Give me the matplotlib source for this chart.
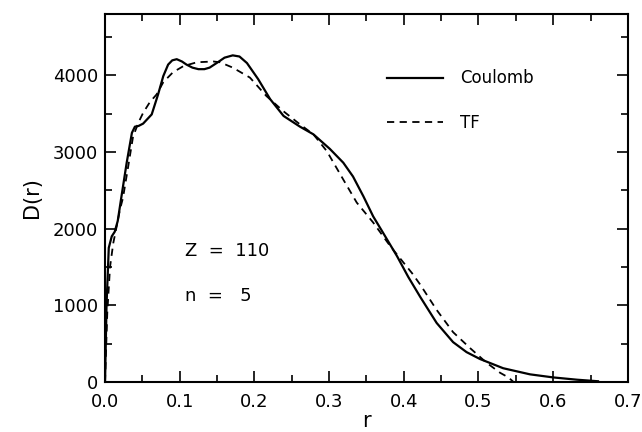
import matplotlib
matplotlib.use("Agg")
import matplotlib.pyplot as plt
from matplotlib.ticker import MultipleLocator, FormatStrFormatter

# Coulomb curve
r_coul = [0, 0.002, 0.005, 0.009, 0.013, 0.017, 0.022, 0.029, 0.036, 0.040,
          0.045, 0.051, 0.0625, 0.071, 0.078, 0.0845, 0.09, 0.096, 0.103, 0.109,
          0.117, 0.125, 0.133, 0.14, 0.151, 0.16, 0.171, 0.18, 0.19, 0.205,
          0.221, 0.239, 0.261, 0.279, 0.301, 0.319, 0.332, 0.346, 0.359, 0.372,
          0.391, 0.406, 0.422, 0.444, 0.466, 0.484, 0.502, 0.533, 0.569, 0.6,
          0.632, 0.66]
d_coul = [0, 1000, 1750, 1900, 1960, 2100, 2420, 2860, 3250, 3330,
          3340, 3370, 3490, 3750, 3990, 4140, 4195, 4210, 4180, 4140,
          4100, 4080, 4080, 4100, 4170, 4230, 4260, 4245, 4160, 3950,
          3690, 3470, 3330, 3230, 3040, 2860, 2680, 2420, 2160, 1950,
          1640, 1370, 1110, 770, 520, 390, 300, 180, 100, 60,
          30, 10]

# Thomas-Fermi curve
r_tf = [0, 0.003, 0.0067, 0.011, 0.016, 0.02, 0.024, 0.031, 0.0375, 0.045,
        0.051, 0.06, 0.069, 0.078, 0.091, 0.105, 0.123, 0.145, 0.154, 0.171,
        0.194, 0.216, 0.239, 0.261, 0.279, 0.297, 0.319, 0.337, 0.359, 0.382,
        0.411, 0.422, 0.444, 0.466, 0.489, 0.511, 0.529, 0.540, 0.547]
d_tf = [0, 900, 1500, 1810, 2050, 2250, 2400, 2810, 3200, 3390,
        3510, 3650, 3750, 3910, 4040, 4120, 4170, 4180, 4170, 4100,
        3970, 3730, 3530, 3360, 3230, 3010, 2640, 2340, 2080, 1770,
        1420, 1270, 940, 650, 440, 250, 120, 60, 0]

fig = plt.figure(figsize=(6.42, 4.32), dpi=100)
ax = fig.add_axes([0.1636, 0.1157, 0.8144, 0.852])

ax.plot(r_coul, d_coul, color='black', lw=1.6, label='Coulomb')
ax.plot(r_tf, d_tf, color='black', lw=1.3, linestyle=(0, (4, 3)), label='TF')

ax.set_xlim(0, 0.7)
ax.set_ylim(0, 4800)
ax.xaxis.set_major_locator(MultipleLocator(0.1))
ax.xaxis.set_minor_locator(MultipleLocator(0.05))
ax.yaxis.set_major_locator(MultipleLocator(1000))
ax.yaxis.set_minor_locator(MultipleLocator(500))
ax.xaxis.set_major_formatter(FormatStrFormatter('%.1f'))

ax.tick_params(which='both', direction='in', top=True, right=True, width=1.2,
               labelsize=13)
ax.tick_params(which='major', length=8)
ax.tick_params(which='minor', length=5)
ax.tick_params(axis='x', which='major', pad=8)
ax.tick_params(axis='y', which='major', pad=5)
for s in ax.spines.values():
    s.set_linewidth(1.5)

ax.set_xlabel('r', fontsize=15, labelpad=0)
ax.set_ylabel('D(r)', fontsize=15, labelpad=8)

ax.legend(loc='upper left', bbox_to_anchor=(0.51, 0.89), frameon=False,
          fontsize=12, handlelength=3.4, labelspacing=1.6, handletextpad=1.0)

ax.text(0.153, 0.355, 'Z  =  110', transform=ax.transAxes, fontsize=13,
        va='center')
ax.text(0.153, 0.235, 'n  =   5', transform=ax.transAxes, fontsize=13,
        va='center')

fig.savefig('out.png', dpi=100)
